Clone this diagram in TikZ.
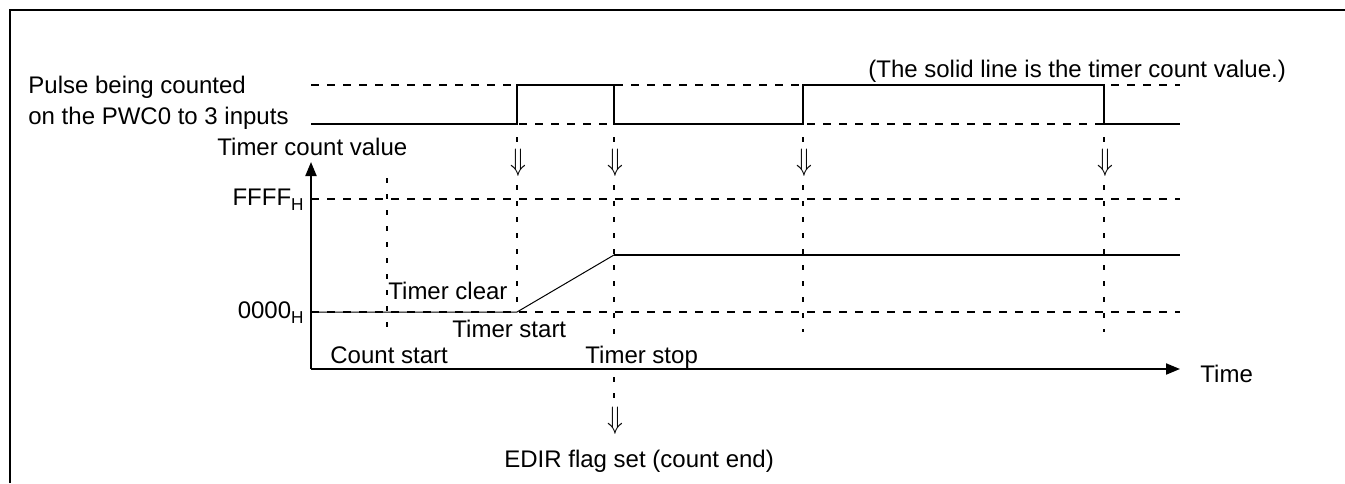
\documentclass[tikz,border=0pt]{standalone}
\usepackage{fontspec}
\usepackage{graphicx}
\setmainfont{Liberation Sans}
\usetikzlibrary{arrows.meta}
\newcommand{\hsub}{\raisebox{-2.6pt}{\fontsize{8.6}{10}\selectfont H}}
\newcommand{\dnarr}{\scalebox{1.3}[1.55]{$\Downarrow$}}
\begin{document}
\begin{tikzpicture}[x=0.5pt,y=-0.5pt,
  txt/.style={inner sep=0pt,anchor=base west,font=\fontsize{12}{15.5}\selectfont},
  txtr/.style={inner sep=0pt,anchor=base east,font=\fontsize{12}{15.5}\selectfont},
  hdash/.style={line width=1pt,dash pattern=on 4pt off 4pt},
  vdash/.style={line width=1pt,dash pattern=on 2.3pt off 5.7pt},
  sig/.style={line width=1pt},
  thin sig/.style={line width=0.5pt},
  axis/.style={line width=1pt,-{Triangle[length=7pt,width=5.5pt]}},
  darr/.style={inner xsep=1pt,inner ysep=0pt,fill=white}]
\useasboundingbox (0,0) rectangle (1345,483);
% frame
\draw[line width=1pt] (10,483) -- (10,10) -- (1345,10);
% horizontal guide lines
\draw[hdash] (311,85) -- (1180,85);
\draw[hdash] (311,124) -- (1180,124);
\draw[hdash] (311,199) -- (1180,199);
\draw[hdash] (311,312) -- (1180,312);
% vertical guide lines
\draw[vdash] (387,178) -- (387,332);
\draw[vdash] (517,137) -- (517,142) (517,185) -- (517,312);
\draw[vdash] (614,137) -- (614,142) (614,185) -- (614,407);
\draw[vdash] (803,137) -- (803,142) (803,185) -- (803,332);
\draw[vdash] (1104,137) -- (1104,142) (1104,185) -- (1104,332);
% pulse waveform
\draw[sig] (311,124) -- (517,124) -- (517,85) -- (614,85) -- (614,124) -- (803,124) -- (803,85) -- (1104,85) -- (1104,124) -- (1180,124);
% timer count value
\draw[thin sig] (311,312) -- (517,312) -- (614,255);
\draw[sig] (614,255) -- (1180,255);
% down arrows
\node[darr] (d1) at (518,163) {\dnarr};
\node[darr] (d2) at (615,163) {\dnarr};
\node[darr] (d3) at (804,163) {\dnarr};
\node[darr] (d4) at (1105,163) {\dnarr};
\node[darr] (d5) at (615,421) {\dnarr};
% labels
\node[txt] (p1) at (28,93) {Pulse being counted};
\node[txt] (p2) at (28,124) {on the PWC0 to 3 inputs};
\node[txt] (tcv) at (217,155) {Timer count value};
\node[txt] (note) at (868,77) {(The solid line is the timer count value.)};
\node[txtr] (ffff) at (304,205) {FFFF\hsub};
\node[txtr] (zero) at (304,318) {0000\hsub};
\node[txt] (tclr) at (388,299) {Timer clear};
\node[txt] (tstart) at (452,337) {Timer start};
\node[txt] (cstart) at (330,363) {Count start};
\node[txt,fill=white,inner sep=1pt] (tstop) at (583,363) {Timer stop};
\node[txt] (time) at (1200,382) {Time};
\node[txt] (edir) at (504,467) {EDIR flag set (count end)};
% axes
\coordinate (O) at (311,369);
\coordinate (ytip) at (311,162);
\coordinate (xtip) at (1180,369);
\draw[axis] (O) -- (ytip);
\draw[axis] (O) -- (xtip);
\end{tikzpicture}
\end{document}
